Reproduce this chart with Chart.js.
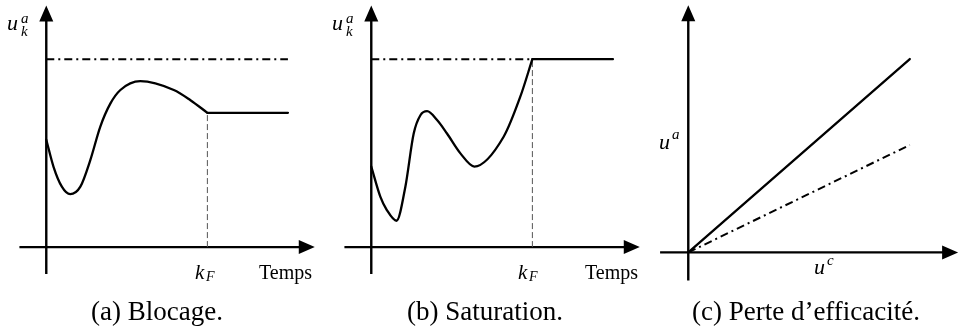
<!DOCTYPE html>
<html>
<head>
<meta charset="utf-8">
<script src="https://cdn.jsdelivr.net/npm/chart.js@4.4.1/dist/chart.umd.min.js"></script>
<style>
  html, body { margin: 0; padding: 0; background: #fff; }
  body { width: 959px; height: 331px; position: relative; overflow: hidden; font-family: 'Liberation Serif', 'DejaVu Serif', serif; color: #000; }
  canvas { position: absolute; }
  .t { position: absolute; white-space: nowrap; line-height: 1; }
  .m { font-style: italic; }
  .cap { position: absolute; top: 298px; font-size: 27px; line-height: 1; white-space: nowrap; transform: translateX(-50%); font-family: 'Liberation Serif', serif; }
</style>
</head>
<body>
<canvas id="chartA"></canvas>
<canvas id="chartB"></canvas>
<canvas id="chartC"></canvas>

<!-- (a) labels -->
<span class="t m" style="left:7px;top:12px;font-size:22px">u</span>
<span class="t m" style="left:21px;top:11px;font-size:15px">a</span>
<span class="t m" style="left:21px;top:24px;font-size:15px">k</span>
<span class="t m" style="left:195px;top:262px;font-size:21px">k</span>
<span class="t m" style="left:206px;top:270px;font-size:14px">F</span>
<span class="t" style="left:259px;top:262px;font-size:20px">Temps</span>
<div class="cap" style="left:157px">(a) Blocage.</div>

<!-- (b) labels -->
<span class="t m" style="left:332px;top:12px;font-size:22px">u</span>
<span class="t m" style="left:346px;top:11px;font-size:15px">a</span>
<span class="t m" style="left:346px;top:24px;font-size:15px">k</span>
<span class="t m" style="left:518px;top:262px;font-size:21px">k</span>
<span class="t m" style="left:529px;top:270px;font-size:14px">F</span>
<span class="t" style="left:585px;top:262px;font-size:20px">Temps</span>
<div class="cap" style="left:485px">(b) Saturation.</div>

<!-- (c) labels -->
<span class="t m" style="left:659px;top:131px;font-size:22px">u</span>
<span class="t m" style="left:672px;top:127px;font-size:15px">a</span>
<span class="t m" style="left:814px;top:256px;font-size:22px">u</span>
<span class="t m" style="left:827px;top:253px;font-size:15px">c</span>
<div class="cap" style="left:806px">(c) Perte d’efficacité.</div>

<script>
const U = 26.85; // pixels per data unit, same in every panel

// shared levels
const kF = 6;        // final instant
const tEnd = 9;      // end of drawn horizon
const uMax = 7;      // actuator limit (dash-dot)

// (a) Blocage
const blocageT = [0, 0.27, 0.58, 0.89, 1.27, 1.64, 2.01, 2.39, 2.76, 3.5, 4.75, 5.37, 6];
const blocageU = [4, 2.99, 2.25, 1.97, 2.25, 3.24, 4.48, 5.35, 5.85, 6.18, 5.85, 5.47, 5];
const blocageHold = 5;

// (b) Saturation
const saturT = [0, 0.34, 0.58, 0.94, 1.27, 1.58, 1.83, 2.08, 2.45, 2.82, 3.32, 3.84, 4.93, 5.55, 6];
const saturU = [3, 1.87, 1.38, 0.98, 2.25, 4.23, 4.91, 5.06, 4.73, 4.23, 3.49, 3.0, 4.11, 5.6, 7];

// (c) Perte d'efficacite
const ucEnd = 8.25;
const uaNominal = 7.2;
const uaReduced = 4.0;

// axis extents (data units)
const timeAxisX = [-1, 10];
const timeAxisY = [-1, 9];
const effAxisX = [-1.05, 10.05];
const effAxisY = [-1.05, 9.2];

const toPts = (xs, ys) => xs.map((x, i) => ({ x: x, y: ys[i] }));

// draws the two axes with arrow heads
const arrowAxes = {
    id: 'arrowAxes',
    beforeDatasetsDraw(chart, args, opts) {
        const ctx = chart.ctx;
        const sx = chart.scales.x, sy = chart.scales.y;
        const x0 = sx.getPixelForValue(0), y0 = sy.getPixelForValue(0);
        const xa = sx.getPixelForValue(opts.x[0]), xb = sx.getPixelForValue(opts.x[1]);
        const ya = sy.getPixelForValue(opts.y[0]), yb = sy.getPixelForValue(opts.y[1]);
        const len = 16, half = 7;
        ctx.save();
        ctx.strokeStyle = '#000';
        ctx.fillStyle = '#000';
        ctx.lineWidth = 2.4;
        ctx.beginPath();
        ctx.moveTo(xa, y0); ctx.lineTo(xb - len + 1, y0);
        ctx.moveTo(x0, ya); ctx.lineTo(x0, yb + len - 1);
        ctx.stroke();
        ctx.beginPath();
        ctx.moveTo(xb, y0); ctx.lineTo(xb - len, y0 - half); ctx.lineTo(xb - len, y0 + half); ctx.closePath();
        ctx.moveTo(x0, yb); ctx.lineTo(x0 - half, yb + len); ctx.lineTo(x0 + half, yb + len); ctx.closePath();
        ctx.fill();
        ctx.restore();
    }
};

const dashDot = [8, 4, 2, 4];

function makeChart(id, ox, oy, xr, yr, axes, datasets) {
    const c = document.getElementById(id);
    const w = Math.round((xr[1] - xr[0]) * U);
    const h = Math.round((yr[1] - yr[0]) * U);
    c.width = w; c.height = h;
    c.style.width = w + 'px'; c.style.height = h + 'px';
    c.style.left = (ox + xr[0] * U) + 'px';
    c.style.top = (oy - yr[1] * U) + 'px';
    return new Chart(c, {
        type: 'scatter',
        data: { datasets: datasets },
        options: {
            responsive: false,
            animation: false,
            devicePixelRatio: 1,
            events: [],
            layout: { padding: 0 },
            elements: { point: { radius: 0 } },
            plugins: {
                legend: { display: false },
                tooltip: { enabled: false },
                arrowAxes: axes
            },
            scales: {
                x: { type: 'linear', display: false, min: xr[0], max: xr[0] + w / U },
                y: { type: 'linear', display: false, min: yr[1] - h / U, max: yr[1] }
            }
        },
        plugins: [arrowAxes]
    });
}

const line = (data, extra) => Object.assign({
    data: data, showLine: true, borderColor: '#000', borderWidth: 2.3, fill: false,
    borderCapStyle: 'round', borderJoinStyle: 'round'
}, extra);

// (a)
makeChart('chartA', 46, 247, [-1.5, 10.6], [-2, 9.5], { x: timeAxisX, y: timeAxisY }, [
    line(toPts(blocageT, blocageU), { cubicInterpolationMode: 'monotone' }),
    line([{ x: kF, y: blocageHold }, { x: tEnd, y: blocageHold }]),
    line([{ x: 0, y: uMax }, { x: tEnd, y: uMax }], { borderDash: dashDot, borderWidth: 2, borderCapStyle: 'butt' }),
    line([{ x: kF, y: 0 }, { x: kF, y: blocageHold }], { borderWidth: 1, borderColor: '#555', borderDash: [6, 3], borderCapStyle: 'butt' })
]);

// (b)
makeChart('chartB', 371, 247, [-1.5, 10.6], [-2, 9.5], { x: timeAxisX, y: timeAxisY }, [
    line(toPts(saturT, saturU), { cubicInterpolationMode: 'monotone' }),
    line([{ x: kF, y: uMax }, { x: tEnd, y: uMax }]),
    line([{ x: 0, y: uMax }, { x: kF, y: uMax }], { borderDash: dashDot, borderWidth: 2, borderCapStyle: 'butt' }),
    line([{ x: kF, y: 0 }, { x: kF, y: uMax }], { borderWidth: 1, borderColor: '#555', borderDash: [6, 3], borderCapStyle: 'butt' })
]);

// (c)
makeChart('chartC', 688, 252, [-1.5, 10.6], [-1.5, 9.4], { x: effAxisX, y: effAxisY }, [
    line([{ x: 0, y: 0 }, { x: ucEnd, y: uaNominal }]),
    line([{ x: 0, y: 0 }, { x: ucEnd, y: uaReduced }], { borderDash: dashDot, borderWidth: 2, borderCapStyle: 'butt' })
]);
</script>
</body>
</html>
